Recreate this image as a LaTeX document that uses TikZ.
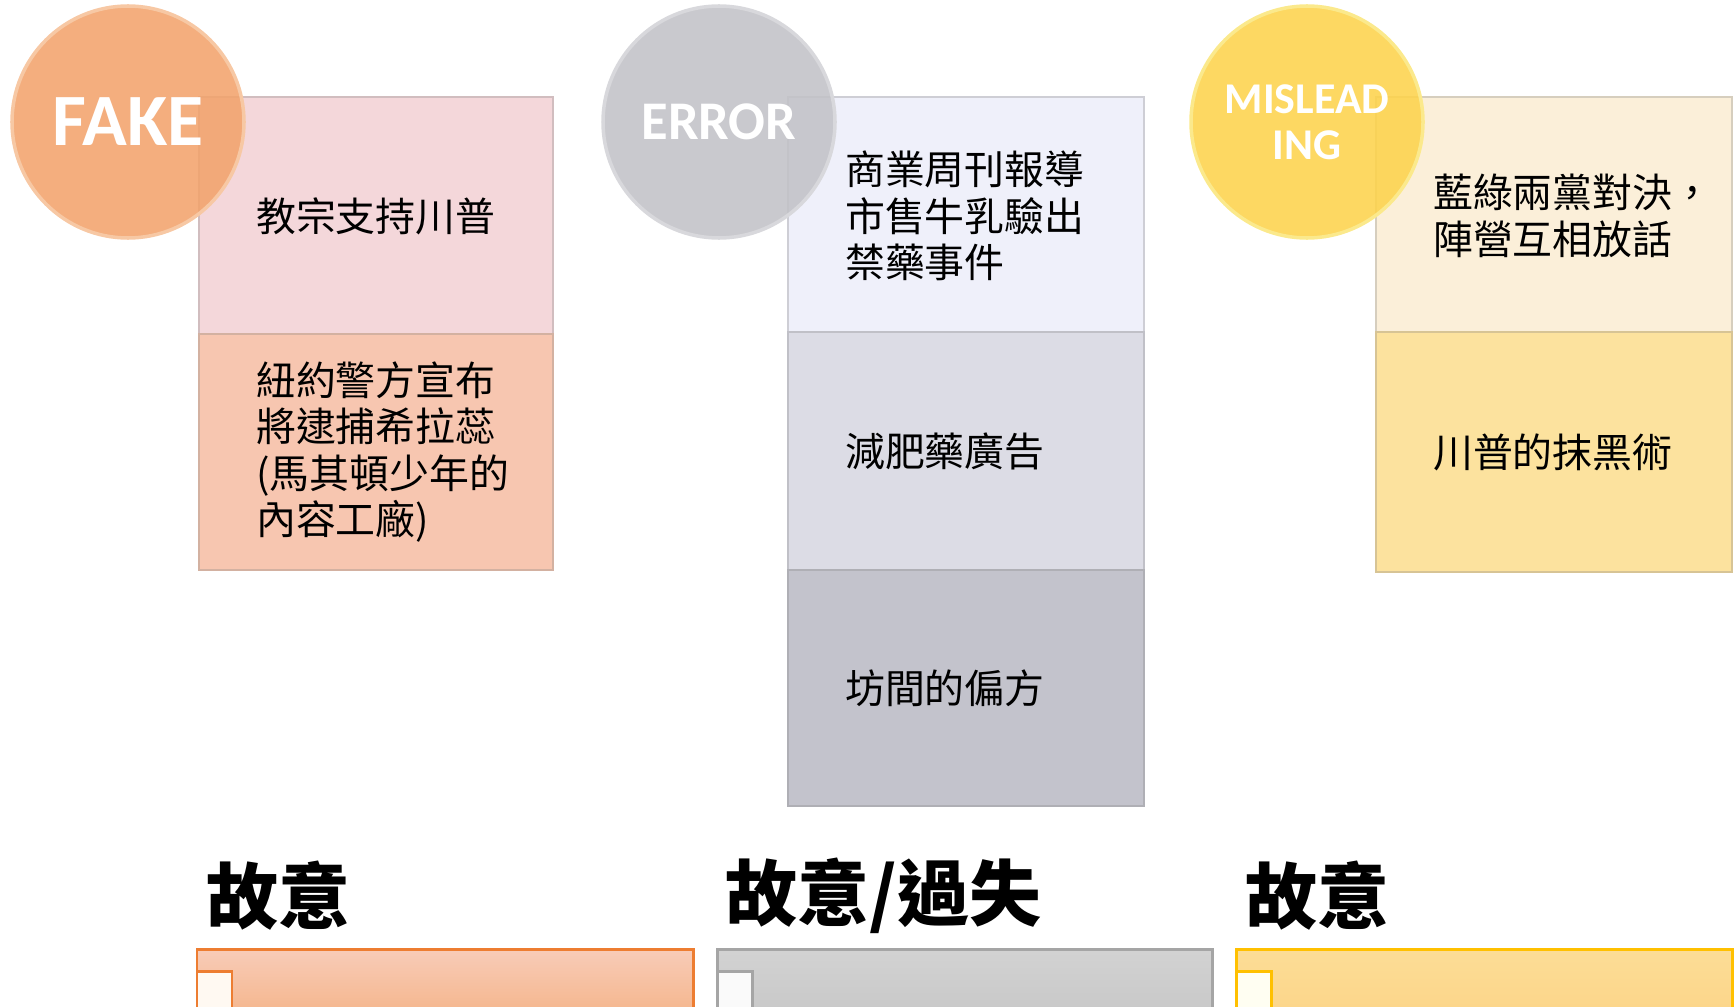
\documentclass[tikz,border=0pt]{standalone}
\usepackage{fontspec}
\newfontfamily\cjk{Noto Sans CJK TC}
\newfontfamily\lat{Carlito}
\definecolor{fakeball}{HTML}{F2A36C}
\definecolor{fakeedge}{HTML}{F7C8A4}
\definecolor{fakeA}{HTML}{F4D7DA}
\definecolor{fakeB}{HTML}{F7C6B0}
\definecolor{fakeline}{HTML}{ED7D31}
\definecolor{errball}{HTML}{C2C2C7}
\definecolor{erredge}{HTML}{D8D8DC}
\definecolor{errA}{HTML}{EFF0FA}
\definecolor{errB}{HTML}{DCDCE5}
\definecolor{errC}{HTML}{C3C3CC}
\definecolor{errline}{HTML}{A5A5A5}
\definecolor{misball}{HTML}{FDD34C}
\definecolor{misedge}{HTML}{FBE98C}
\definecolor{misA}{HTML}{FBEFD9}
\definecolor{misB}{HTML}{FCE29E}
\definecolor{misline}{HTML}{FFC000}
\tikzset{
  cell/.style={draw=#1!70!gray, line width=0.8pt},
  ball/.style={circle, minimum size=232*0.02cm, fill=#1ball, draw=#1edge,
    line width=2pt, fill opacity=0.88},
  balltext/.style={text=white, font=\lat\bfseries, align=center},
  celltext/.style={anchor=west, align=left, font=\cjk\fontsize{22.7}{26.5}\selectfont},
  kind/.style={anchor=west, font=\cjk\bfseries\fontsize{41}{45}\selectfont},
  bar/.style={line width=1.7pt},
}
\begin{document}
\begin{tikzpicture}[x=0.02cm, y=-0.02cm]
      \useasboundingbox (0,0) rectangle (1735,1007);
      \clip (0,0) rectangle (1735,1007);
      \def\tx{51}
      %
      % FAKE column
      \draw[cell=fakeA, fill=fakeA] (199,97) rectangle (553,334);
      \node[celltext] (f1) at (199+\tx,216) {教宗支持川普};
      \draw[cell=fakeB, fill=fakeB] (199,334) rectangle (553,570);
      \node[celltext] (f2) at (199+\tx,452) {紐約警方宣布\\將逮捕希拉蕊\\(馬其頓少年的\\內容工廠)};
      \node[ball=fake] (fake) at (128,122) {};
      \node[balltext, font=\lat\bfseries\fontsize{42}{46}\selectfont] at (fake) {FAKE};
      %
      % ERROR column
      \draw[cell=errA, fill=errA] (788,97) rectangle (1144,332);
      \node[celltext] (e1) at (788+\tx,216) {商業周刊報導\\市售牛乳驗出\\禁藥事件};
      \draw[cell=errB, fill=errB] (788,332) rectangle (1144,570);
      \node[celltext] (e2) at (788+\tx,451) {減肥藥廣告};
      \draw[cell=errC, fill=errC] (788,570) rectangle (1144,806);
      \node[celltext] (e3) at (788+\tx,688) {坊間的偏方};
      \node[ball=err] (error) at (719,122) {};
      \node[balltext, font=\lat\bfseries\fontsize{31}{35}\selectfont] at (error) {ERROR};
      %
      % MISLEADING column
      \draw[cell=misA, fill=misA] (1376,97) rectangle (1732,332);
      \node[celltext] (m1) at (1376+\tx,216) {藍綠兩黨對決，\\陣營互相放話};
      \draw[cell=misB, fill=misB] (1376,332) rectangle (1732,572);
      \node[celltext] (m2) at (1376+\tx,452) {川普的抹黑術};
      \node[ball=mis] (mislead) at (1307,122) {};
      \node[balltext, font=\lat\bfseries\fontsize{25}{26}\selectfont] at (mislead) {MISLEAD\\ING};
      %
      % bottom labels and bars
      \node[kind] (k1) at (200,896) {故意};
      \node[kind] (k2) at (719,896) {故意/過失};
      \node[kind] (k3) at (1239,896) {故意};
      \shade[top color=fakeB!90!white, bottom color=fakeball!85!white, draw=fakeline, bar]
        (197,949) rectangle (693,1030);
      \shade[top color=gray!35, bottom color=gray!45, draw=errline, bar]
        (717,949) rectangle (1212,1030);
      \shade[top color=misB!95!orange, bottom color=misB!85!orange, draw=misline, bar]
        (1236,949) rectangle (1732,1030);
      \draw[bar, draw=fakeline, fill=white!95!orange] (197,971) rectangle (232,1030);
      \draw[bar, draw=errline, fill=white!96!gray] (717,971) rectangle (752,1030);
      \draw[bar, draw=misline, fill=white!95!yellow] (1236,971) rectangle (1271,1030);
      %
    \end{tikzpicture}
\end{document}
